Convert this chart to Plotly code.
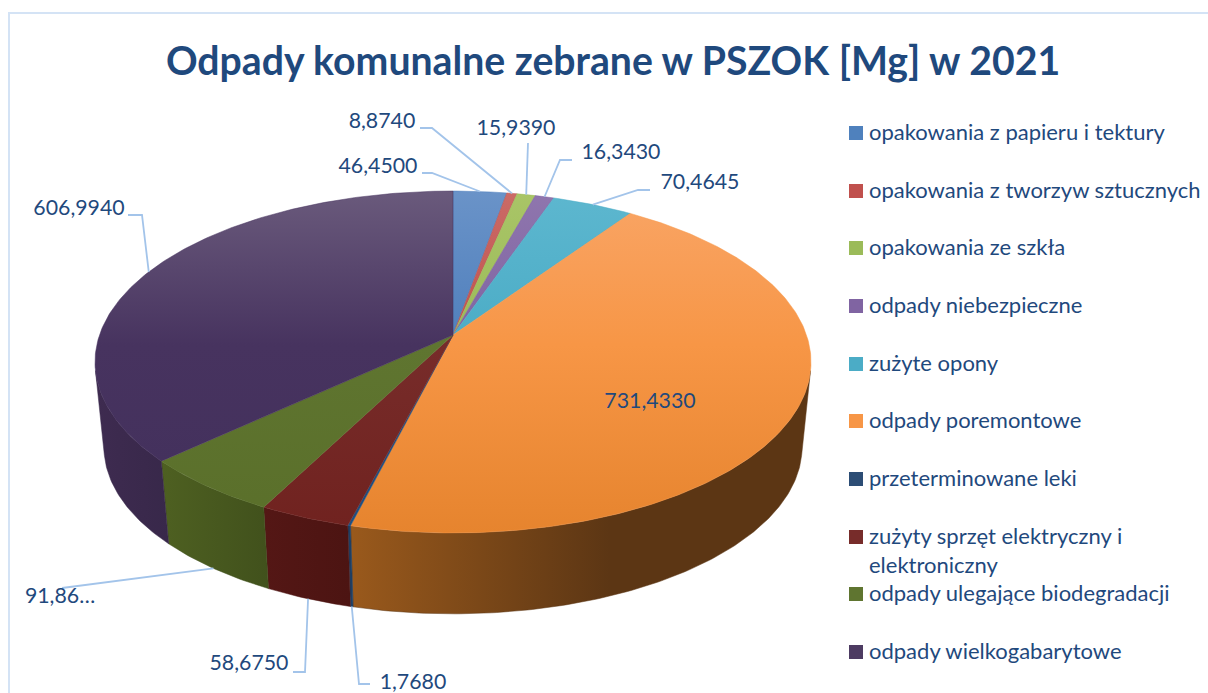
import numpy as np
import plotly.graph_objects as go

TITLE = "Odpady komunalne zebrane w PSZOK [Mg] w 2021"
categories = [
    "opakowania z papieru i tektury",
    "opakowania z tworzyw sztucznych",
    "opakowania ze szkła",
    "odpady niebezpieczne",
    "zużyte opony",
    "odpady poremontowe",
    "przeterminowane leki",
    "zużyty sprzęt elektryczny i<br>elektroniczny",
    "odpady ulegające biodegradacji",
    "odpady wielkogabarytowe",
]
values = [46.45, 8.874, 15.939, 16.343, 70.4645, 731.433, 1.768, 58.675, 91.86, 606.994]

legend_colors = ["#4f81bd", "#c0504d", "#9bbb59", "#8064a2", "#4bacc6",
                 "#f79646", "#2c4d75", "#772c2a", "#5f7530", "#4d3b62"]
top_colors = [
    ("#6a93c8", "#4f7fbc", "#4a78b2"),
    ("#cb6b67", "#bf504c", "#b54b48"),
    ("#a9c567", "#9bbb59", "#92b053"),
    ("#8f76ae", "#7f63a1", "#775d98"),
    ("#5db7cf", "#4bacc6", "#47a2ba"),
    ("#f9a566", "#f79646", "#e6842e"),
    ("#2c5a8c", "#1f4f80", "#1f4f80"),
    ("#8a3431", "#772c2a", "#70221f"),
    ("#6d8436", "#5f7530", "#5a6f2a"),
    ("#6a5a7c", "#47335f", "#42305c"),
]
wall_colors = [
    ("#3b5e8c", "#3b5e8c"), ("#8c3b38", "#8c3b38"), ("#728a42", "#728a42"),
    ("#5e4a78", "#5e4a78"), ("#387f92", "#387f92"),
    ("#99591c", "#5c3614"), ("#1f3f63", "#1f3f63"), ("#541715", "#4c1412"),
    ("#4e6021", "#41511c"), ("#3e2b50", "#38284a"),
]
TEXT = "#1f497d"
LEADER = "#a3c4ea"
FRAME = "#d4e3f5"
FONT = "Lato"

# projection of the tilted disc on the page
CX, CY, B, A, K = 453.0, 335.0, 353.5, 166.7, 0.158
BOTTOM_SCALE, DEPTH = 0.975, 85.8

def project(theta, bottom=False):
    u, v = np.sin(theta), -np.cos(theta)
    d = 1 - K * v
    x, y = B * u / d, A * v / d
    if bottom:
        return CX + BOTTOM_SCALE * x, CY + BOTTOM_SCALE * y + DEPTH
    return CX + x, CY + y

def tangent_angle(lo, hi):
    """Angle where the rim line between both discs is the silhouette."""
    grid = np.linspace(lo, hi, 4000)
    xt, yt = project(grid)
    xb, yb = project(grid, bottom=True)
    cross = np.gradient(xt) * (yb - yt) - np.gradient(yt) * (xb - xt)
    return grid[np.argmin(np.abs(cross))]

TH_R = tangent_angle(np.radians(30), np.radians(150))
TH_L = tangent_angle(np.radians(210), np.radians(330))

total = sum(values)
edges = 2 * np.pi * np.cumsum([0] + values) / total
mids = (edges[:-1] + edges[1:]) / 2

fig = go.Figure()

# frame
fig.add_shape(type="rect", x0=9, y0=13, x1=1215, y1=700,
              line=dict(color=FRAME, width=2), layer="below")

def arc(a0, a1):
    return np.linspace(a0, a1, max(3, int((a1 - a0) * 80)))

# side walls: only the part of each slice's rim that faces the viewer
for i in range(len(values)):
    a0, a1 = max(edges[i], TH_R), min(edges[i + 1], TH_L)
    if a1 <= a0:
        continue
    t = arc(a0, a1)
    xt, yt = project(t)
    xb, yb = project(t[::-1], bottom=True)
    x = np.r_[xt, xb, xt[:1]]
    y = np.r_[yt, yb, yt[:1]]
    c0, c1 = wall_colors[i]
    xs, xe = (352, 610) if i == 5 else (float(x.min()), float(x.max()))
    fig.add_trace(go.Scatter(
        x=x, y=y, mode="lines", fill="toself",
        line=dict(width=0.5, color=c1),
        fillgradient=dict(type="horizontal", colorscale=[[0, c0], [1, c1]], start=xs, stop=xe),
        hoverinfo="skip", showlegend=False))

# top surface
for i in range(len(values)):
    t = arc(edges[i], edges[i + 1])
    xt, yt = project(t)
    x = np.r_[CX, xt, CX]
    y = np.r_[CY, yt, CY]
    c0, c1, c2 = top_colors[i]
    fig.add_trace(go.Scatter(
        x=x, y=y, mode="lines", fill="toself",
        line=dict(width=0.5, color=c1),
        fillgradient=dict(type="vertical",
                          colorscale=[[0, c0], [0.45, c1], [1, c2]],
                          start=191, stop=533),
        name=categories[i].replace("<br>", " "),
        hovertemplate="%{fullData.name}<extra></extra>", showlegend=False))

# leader lines: label side points, then the computed slice anchor
leader_start = {
    0: [(422, 173), (432, 173)],
    1: [(420, 128), (432, 128)],
    2: [(528, 143)],
    3: [(572, 160), (560, 160)],
    4: [(650, 190), (638, 190)],
    6: [(370, 684), (359, 684)],
    7: [(293, 672), (305, 672)],
    8: [(62, 588)],
    9: [(128, 215), (142, 215)],
}
front = {6, 7, 8}
for i, pts in leader_start.items():
    ax, ay = project(mids[i], bottom=i in front)
    fig.add_trace(go.Scatter(
        x=[p[0] for p in pts] + [ax], y=[p[1] for p in pts] + [ay],
        mode="lines", line=dict(color=LEADER, width=1.8),
        hoverinfo="skip", showlegend=False))

# data labels
label_pos = [(378, 168), (382, 123), (516, 130), (621, 154), (700, 184),
             (650, 403), (413, 684), (249, 665), (60, 598), (79, 210)]
labels = [f"{v:.4f}".replace(".", ",") for v in values]
labels[8] = labels[8][:5] + "…"
fig.add_trace(go.Scatter(
    x=[p[0] for p in label_pos], y=[p[1] for p in label_pos], text=labels,
    mode="text", textposition="middle center",
    textfont=dict(family=FONT, size=21.3, color=TEXT),
    hoverinfo="skip", showlegend=False))

# legend
legend_y = [133, 191, 248, 306, 364, 421, 479, 537, 594, 652]
for i, cat in enumerate(categories):
    fig.add_trace(go.Scatter(
        x=[856], y=[legend_y[i]], mode="markers",
        marker=dict(symbol="square", size=14, color=legend_colors[i], line=dict(width=0)),
        hoverinfo="skip", showlegend=False))
    lines = cat.count("<br>")
    fig.add_trace(go.Scatter(
        x=[869], y=[legend_y[i] + 1.5 + lines * 14.5], text=[cat], mode="text",
        textposition="middle right",
        textfont=dict(family=FONT, size=22, color=TEXT),
        hoverinfo="skip", showlegend=False))

fig.update_layout(
    width=1208, height=693,
    margin=dict(l=0, r=0, t=0, b=0),
    paper_bgcolor="white", plot_bgcolor="white",
    title=dict(text=f"<b>{TITLE}</b>", x=613 / 1208, y=1 - 61 / 693,
               xanchor="center", yanchor="middle",
               font=dict(family=FONT, size=39.2, color=TEXT)),
    xaxis=dict(range=[0, 1208], visible=False, fixedrange=True),
    yaxis=dict(range=[693, 0], visible=False, fixedrange=True),
    showlegend=False,
)
fig.write_html("out.html", config={"displayModeBar": False},
               post_script="document.body.style.margin='0';")
